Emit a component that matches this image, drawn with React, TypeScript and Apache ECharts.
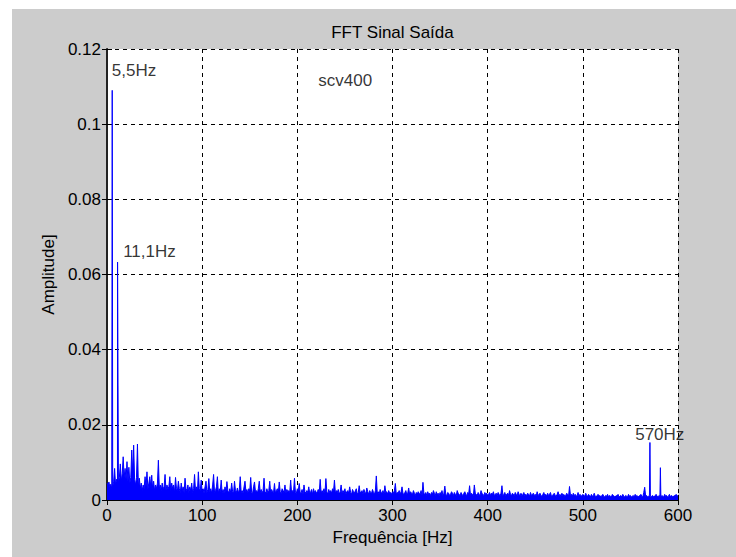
import React, { useEffect, useRef } from "react";
import * as echarts from "echarts";

// FFT magnitude noise floor, one value per Hz (0..600), in units of 1e-4
const noiseAmp1e4 = [
  45,40,48,35,42,30,35,50,84,40, 55,50,45,60,96,50,70,115,60,84,
  55,102,50,87,45,60,133,70,146,55, 40,60,149,35,58,30,45,25,40,30,
  62,35,75,30,45,62,35,66,30,50, 25,40,30,45,106,30,40,25,45,30,
  35,68,25,40,30,35,62,25,45,30, 40,20,60,30,25,50,30,20,45,25,
  35,20,58,30,25,40,20,35,25,45, 20,30,68,25,35,20,75,30,25,53,
  22,30,18,35,50,20,28,57,22,30, 18,40,68,20,25,35,62,18,30,22,
  53,20,28,18,35,22,49,25,18,30, 20,45,22,18,50,25,20,32,18,28,
  62,20,25,18,35,50,22,28,18,30, 25,60,20,18,35,48,22,25,18,30,
  50,20,28,18,25,58,22,18,30,20, 25,50,18,28,22,20,44,18,25,30,
  20,48,22,18,30,25,20,40,18,28, 22,25,20,53,18,25,22,58,20,18,
  30,25,44,18,20,28,15,40,22,18, 25,20,35,18,22,28,15,30,20,25,
  18,22,28,20,55,18,25,20,30,18, 57,22,15,28,20,25,18,30,22,53,
  18,25,20,28,15,22,40,18,25,20, 30,15,22,25,18,35,20,15,28,22,
  18,25,30,15,20,38,18,22,25,15, 28,20,18,32,22,15,25,20,18,28,
  20,15,25,64,18,22,15,28,20,18, 25,15,38,20,22,15,25,18,20,15,
  22,18,25,44,15,20,18,25,15,22, 35,18,15,20,25,15,18,32,15,22,
  18,15,25,18,12,20,15,22,18,15, 25,12,47,18,15,20,12,22,15,18,
  12,20,15,25,18,12,22,15,18,12, 20,15,25,12,18,37,15,12,20,18,
  12,15,22,18,12,20,15,12,25,18, 15,12,20,15,12,18,22,15,12,20,
  15,38,12,18,15,12,40,18,15,12, 20,15,12,25,18,15,12,20,15,18,
  12,15,20,12,18,15,22,12,15,18, 12,20,15,12,18,38,12,15,20,12,
  15,18,12,25,15,12,18,15,12,20, 15,12,22,15,12,18,12,15,20,12,
  15,12,18,15,10,20,12,15,18,12, 15,10,22,12,15,18,12,10,15,20,
  12,15,10,18,12,15,20,10,12,15, 18,12,10,15,22,12,15,10,18,12,
  15,10,12,18,15,10,36,12,15,10, 18,12,15,10,12,20,10,15,12,10,
  15,12,10,18,12,10,15,12,8,15, 10,12,18,10,8,12,15,10,12,8,
  12,15,10,8,12,10,15,8,12,10, 8,15,12,10,8,12,10,15,8,10,
  12,8,15,10,8,12,10,8,15,10, 12,8,10,12,8,15,10,12,8,10,
  12,15,10,8,20,34,10,12,8,10, 12,10,8,12,10,8,12,15,10,8,
  12,10,8,12,10,8,15,10,12,8, 10,15,8,12,10,8,12,10,15,12,
  10,
];

// Dominant spectral peaks
const peakFreqs = [5.5, 11.1, 570.5, 581.5];
const peakAmps = [0.109, 0.0633, 0.0153, 0.0086];

// Annotations (data coordinates, left-middle anchored)
const annotationTexts = ["5,5Hz", "11,1Hz", "scv400", "570Hz"];
const annotationX = [5, 17, 222, 555];
const annotationY = [0.1144, 0.0661, 0.1115, 0.0173];

const titleText = "FFT Sinal Saída";
const xName = "Frequência [Hz]";
const yName = "Amplitude]";

const FONT = "'Liberation Sans', Arial, sans-serif";

function buildSpectrum(): number[][] {
  const pts: number[][] = noiseAmp1e4.map((v, i) => [i, v / 10000]);
  peakFreqs.forEach((f, k) => pts.push([f, peakAmps[k]]));
  pts.sort((a, b) => a[0] - b[0]);
  return pts;
}

export default function App() {
  const ref = useRef<HTMLDivElement>(null);

  useEffect(() => {
    if (!ref.current) return;
    const chart = echarts.init(ref.current, undefined, { renderer: "svg" });
    const axisCommon = {
      axisLine: { show: true, lineStyle: { color: "#000", width: 1 } },
      axisTick: { show: true, inside: true, length: 5, lineStyle: { color: "#000" } },
    };
    const fmtY = (v: number) => String(parseFloat(v.toFixed(2)));
    chart.setOption({
      animation: false,
      backgroundColor: "#cccccc",
      textStyle: { fontFamily: FONT },
      grid: { left: 95, top: 40, width: 571, height: 451, backgroundColor: "#fff", show: true, borderWidth: 0 },
      graphic: [
        {
          type: "text",
          x: 380.5,
          y: 23,
          style: {
            text: titleText,
            fontSize: 17,
            fontFamily: FONT,
            fill: "#000",
            textAlign: "center",
            textVerticalAlign: "middle",
          },
        },
      ],
      xAxis: [
        {
          type: "value",
          min: 0,
          max: 600,
          interval: 100,
          position: "bottom",
          ...axisCommon,
          axisLabel: { color: "#000", fontSize: 17, margin: 7, fontFamily: FONT },
          splitLine: { show: true, lineStyle: { color: "#000", type: [4, 4], width: 1 } },
          name: xName,
          nameLocation: "middle",
          nameGap: 28,
          nameTextStyle: { color: "#000", fontSize: 17, fontFamily: FONT },
        },
        {
          type: "value",
          min: 0,
          max: 600,
          interval: 100,
          position: "top",
          ...axisCommon,
          axisLabel: { show: false },
          splitLine: { show: false },
        },
      ],
      yAxis: [
        {
          type: "value",
          min: 0,
          max: 0.12,
          interval: 0.02,
          position: "left",
          ...axisCommon,
          axisLabel: { color: "#000", fontSize: 17, margin: 6, formatter: fmtY, fontFamily: FONT },
          splitLine: { show: true, lineStyle: { color: "#000", type: [4, 4], width: 1 } },
          name: yName,
          nameLocation: "middle",
          nameGap: 43,
          nameTextStyle: { color: "#000", fontSize: 17, fontFamily: FONT },
        },
        {
          type: "value",
          min: 0,
          max: 0.12,
          interval: 0.02,
          position: "right",
          axisLine: { show: true, lineStyle: { color: "#222", width: 2 } },
          axisTick: { show: true, inside: true, length: 5, lineStyle: { color: "#000" } },
          axisLabel: { show: false },
          splitLine: { show: false },
        },
      ],
      series: [
        {
          type: "line",
          data: buildSpectrum(),
          showSymbol: false,
          symbol: "none",
          lineStyle: { color: "#0000ff", width: 1 },
          areaStyle: { color: "#0000ff", opacity: 1 },
          silent: true,
        },
        {
          type: "scatter",
          data: annotationX.map((x, i) => [x, annotationY[i]]),
          symbolSize: 0,
          silent: true,
          label: {
            show: true,
            position: "right",
            distance: 0,
            color: "#000",
            fontSize: 17,
            fontFamily: FONT,
            formatter: (p: any) => annotationTexts[p.dataIndex],
          },
        },
      ],
    });
    return () => chart.dispose();
  }, []);

  return (
    <div
      ref={ref}
      style={{ position: "absolute", left: 12, top: 9, width: 724, height: 548 }}
    />
  );
}
